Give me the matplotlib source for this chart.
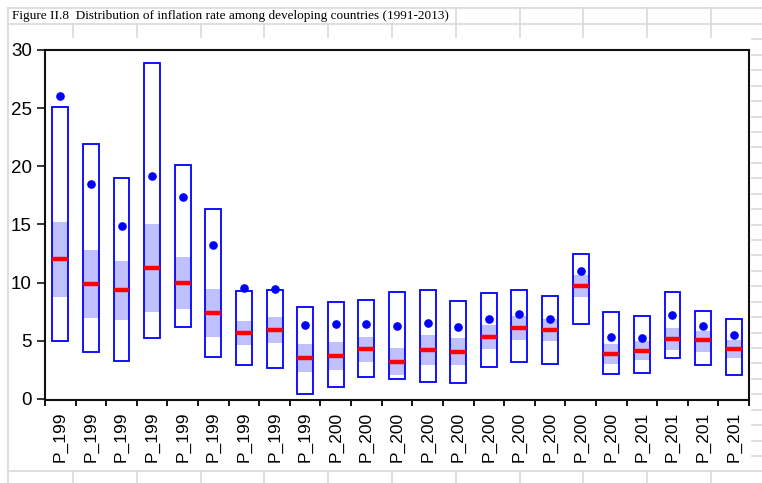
import matplotlib
matplotlib.use('Agg')
import matplotlib.pyplot as plt
from matplotlib.lines import Line2D
import numpy as np

# data, 1991-2013
years = list(range(1991, 2014))
labels = ['P_' + str(y)[:3] for y in years]
low = [5.0, 4.0, 3.25, 5.27, 6.17, 3.6, 2.95, 2.67, 0.43, 1.06, 1.86, 1.72,
       1.43, 1.35, 2.72, 3.18, 3.0, 6.42, 2.12, 2.24, 3.5, 2.92, 2.09]
high = [25.1, 21.9, 19.0, 28.85, 20.15, 16.3, 9.29, 9.4, 7.9, 8.31, 8.51, 9.17,
        9.34, 8.4, 9.08, 9.37, 8.86, 12.47, 7.45, 7.16, 9.17, 7.6, 6.85]
q1 = [8.75, 7.0, 6.8, 7.45, 7.74, 5.33, 4.6, 4.84, 2.35, 2.52, 3.15, 2.04,
      2.92, 2.92, 4.3, 5.1, 5.02, 8.74, 3.01, 3.35, 4.24, 4.07, 3.5]
q3 = [15.25, 12.8, 11.87, 15.05, 12.24, 9.43, 6.7, 7.05, 4.76, 4.87, 5.33, 4.41,
      5.47, 5.24, 6.36, 7.11, 6.88, 10.69, 4.73, 4.99, 6.1, 5.85, 5.07]
median = [12.0, 9.9, 9.35, 11.3, 9.97, 7.37, 5.65, 5.93, 3.55, 3.7, 4.27, 3.21,
          4.21, 4.07, 5.33, 6.1, 5.96, 9.72, 3.9, 4.15, 5.19, 5.04, 4.27]
mean = [26.05, 18.5, 14.9, 19.2, 17.4, 13.27, 9.54, 9.43, 6.33, 6.48, 6.42, 6.3,
        6.56, 6.16, 6.88, 7.3, 6.88, 10.98, 5.36, 5.27, 7.25, 6.3, 5.5]

W, H = 762, 483
fig = plt.figure(figsize=(W / 100, H / 100), dpi=100, facecolor='white')

# --- spreadsheet cell borders around the chart object ---
gc = '#d9d9d9'
def gl(x0, y0, x1, y1):
    fig.add_artist(Line2D([x0 / W, x1 / W], [1 - y0 / H, 1 - y1 / H],
                          transform=fig.transFigure, color=gc, lw=1.2))

gl(8, 8, W, 8)
gl(8, 24, W, 24)
gl(8, 8, 8, H)
cols = [72.7, 136.5, 200.5, 264, 328, 392, 455.7, 519.5, 583.3, 647, 711]
for c in cols:
    gl(c, 24, c, 37)
    gl(c, 471, c, H)
    if c > 450:
        gl(c, 8, c, 24)
gl(8, 471, W, 471)
row = 24 + 15.43
while row < 471:
    gl(752, row, W, row)
    row += 15.43

fig.text(12 / W, 1 - 16 / H,
         'Figure II.8  Distribution of inflation rate among developing countries (1991-2013)',
         family='Liberation Serif', fontsize=9.5, va='center', ha='left')

# --- plot area ---
ax = fig.add_axes([45 / W, (H - 400) / H, (749 - 45) / W, (400 - 50) / H])
x = np.arange(len(years))
bw = 0.52

ax.bar(x, np.array(q3) - np.array(q1), bottom=q1, width=bw,
       color='#c0c0ff', edgecolor='none', zorder=2)
ax.bar(x, np.array(high) - np.array(low), bottom=low, width=bw,
       facecolor='none', edgecolor='#0000ff', lw=1.3, zorder=3)
ax.hlines(median, x - bw / 2, x + bw / 2, color='#ff0000', lw=3.2, zorder=4)
ax.plot(x, mean, 'o', color='#0000ff', ms=5.2, zorder=5)

ax.set_xlim(-0.5, len(years) - 0.5)
ax.set_ylim(-0.09, 30)
ax.set_yticks(range(0, 31, 5))

ax.set_xticks(x)
ax.set_xticklabels(labels, rotation=90, va='top', ha='center')
ax.set_xticks(np.arange(-0.5, len(years)), minor=True)
ax.tick_params(axis='x', which='major', length=0, pad=8.4)
ax.tick_params(axis='x', which='minor', length=4.5, width=1.3, direction='out')
ax.tick_params(axis='y', length=5.8, width=1.1, pad=3.6)
for lab in ax.get_xticklabels() + ax.get_yticklabels():
    lab.set_family('Liberation Sans')
for lab in ax.get_xticklabels():
    lab.set_fontsize(12.5)
for lab in ax.get_yticklabels():
    lab.set_fontsize(13.5)

for s in ax.spines.values():
    s.set_linewidth(1.5)
    s.set_color('#111111')

fig.savefig('out.png', dpi=100, facecolor='white')
